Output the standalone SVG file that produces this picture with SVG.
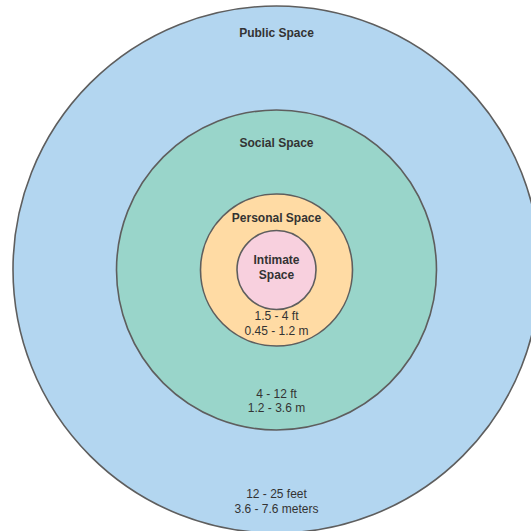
<svg xmlns="http://www.w3.org/2000/svg" width="531" height="531" viewBox="0 0 531 531">
<style>
.c{stroke:#5e5e5e;stroke-width:1.6}
.t{font-family:"Liberation Sans",Arial,sans-serif;font-size:12px;fill:#333;text-anchor:middle}
.b{font-weight:bold}
</style>
<rect width="531" height="531" fill="#fff"/>
<g id="public">
<circle class="c" cx="276.5" cy="269.5" r="263.5" fill="#b3d6f0"/>
<text class="t b" x="276.5" y="36.5">Public Space</text>
<text class="t" x="276.5" y="498">12 - 25 feet</text>
<text class="t" x="276.5" y="513">3.6 - 7.6 meters</text>
</g>
<g id="social">
<circle class="c" cx="276.5" cy="270" r="160" fill="#99d5ca"/>
<text class="t b" x="276.5" y="146.5">Social Space</text>
<text class="t" x="276.5" y="397.5">4 - 12 ft</text>
<text class="t" x="276.5" y="412">1.2 - 3.6 m</text>
</g>
<g id="personal">
<circle class="c" cx="276.5" cy="270" r="76" fill="#ffdba4"/>
<text class="t b" x="276.5" y="222.3">Personal Space</text>
<text class="t" x="276.5" y="320">1.5 - 4 ft</text>
<text class="t" x="276.5" y="335">0.45 - 1.2 m</text>
</g>
<g id="intimate">
<circle class="c" cx="276.5" cy="270" r="39.5" fill="#f8d0de"/>
<text class="t b" x="276.5" y="264">Intimate</text>
<text class="t b" x="276.5" y="278.5">Space</text>
</g>
<g id="connectors"/>
</svg>
